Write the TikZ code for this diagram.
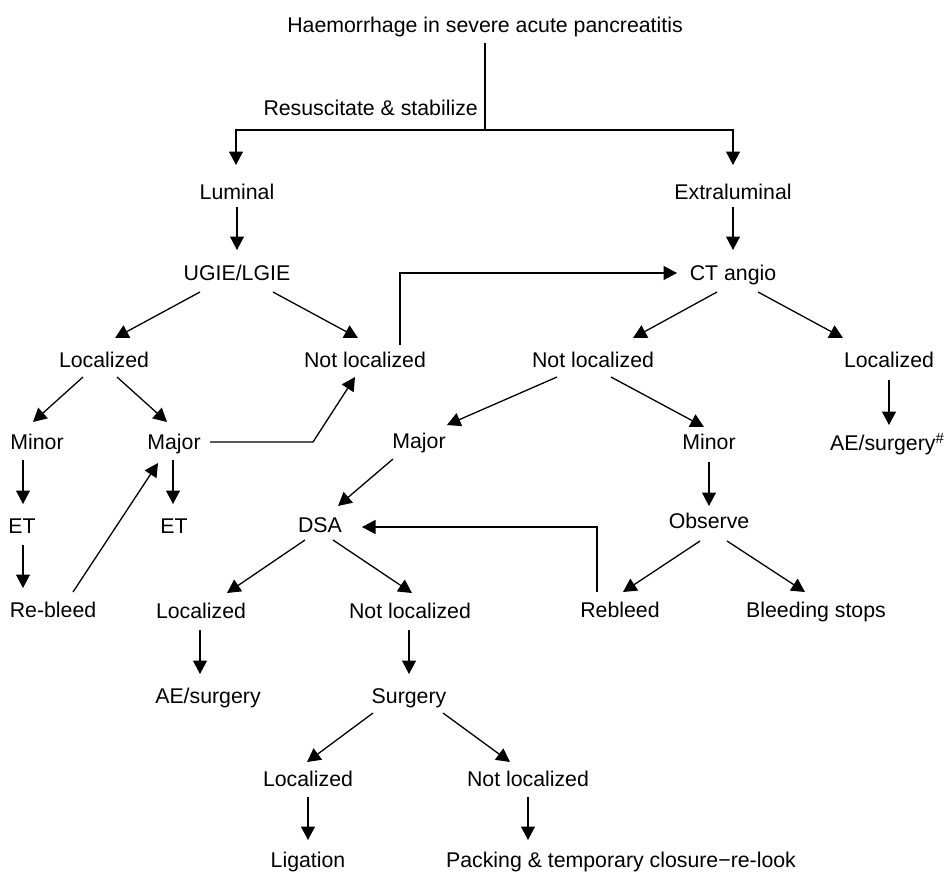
\documentclass[tikz,border=0pt]{standalone}
\usepackage{fontspec}
\setmainfont{Liberation Sans}
\usetikzlibrary{arrows.meta,calc}
\tikzset{
  lbl/.style={inner sep=0pt, text height=15.2pt, text depth=0pt, font=\fontsize{21.3}{25}\selectfont},
  conn/.style={line width=1.3pt},
  arr/.style={conn, -{Triangle[width=14pt,length=13.5pt]}}
}
\begin{document}
\begin{tikzpicture}[x=1pt,y=-1pt]
\useasboundingbox (0,0) rectangle (944,873);
% nodes
\node[lbl] (title) at (485,25) {Haemorrhage in severe acute pancreatitis};
\node[lbl,anchor=east] (resus) at (478,108) {Resuscitate \& stabilize};
\node[lbl] (lum) at (237,192) {Luminal};
\node[lbl] (ext) at (733,192) {Extraluminal};
\node[lbl] (ugie) at (237,273) {UGIE/LGIE};
\node[lbl] (ct) at (733,273) {CT angio};
\node[lbl] (locL) at (104,360) {Localized};
\node[lbl] (nlL) at (365,360) {Not localized};
\node[lbl] (nlR) at (593,360) {Not localized};
\node[lbl] (locR) at (889,360) {Localized};
\node[lbl] (minL) at (37,442) {Minor};
\node[lbl] (majL) at (174,442) {Major};
\node[lbl] (majR) at (419,441) {Major};
\node[lbl] (minR) at (709,442) {Minor};
\node[lbl,anchor=west] (aeR) at (830,443) {AE/surgery\textsuperscript{\#}};
\node[lbl] (etL) at (22,526) {ET};
\node[lbl] (etM) at (174,526) {ET};
\node[lbl] (dsa) at (320,525) {DSA};
\node[lbl] (obs) at (709,521) {Observe};
\node[lbl] (rebL) at (53,610) {Re-bleed};
\node[lbl] (locM) at (201,611) {Localized};
\node[lbl] (nlM) at (410,611) {Not localized};
\node[lbl] (rebR) at (620,610) {Rebleed};
\node[lbl] (stops) at (816,610) {Bleeding stops};
\node[lbl] (aeM) at (208,696) {AE/surgery};
\node[lbl] (surg) at (409,696) {Surgery};
\node[lbl] (locB) at (308,779) {Localized};
\node[lbl] (nlB) at (528,779) {Not localized};
\node[lbl] (lig) at (308,860) {Ligation};
\node[lbl] (pack) at (621,860) {Packing \& temporary closure−re-look};
\coordinate (split) at (485,130);
% connectors
\draw[conn] ($(title)+(0,18)$) -- (split);
\draw[arr] (split) -| ($(lum)+(-1,-27)$);
\draw[arr] (split) -| ($(ext)+(0,-27)$);
\draw[arr] ($(lum)+(0,15)$) -- ($(ugie)+(0,-23)$);
\draw[arr] ($(ext)+(0,15)$) -- ($(ct)+(0,-23)$);
\draw[arr] ($(ugie)+(-37,19)$) -- ($(locL)+(11,-22)$);
\draw[arr] ($(ugie)+(36,19)$) -- ($(nlL)+(-7,-22)$);
\draw[arr] ($(nlL)+(35,-15)$) |- ($(ct)+(-56,0)$);
\draw[arr] ($(ct)+(-16,19)$) -- ($(nlR)+(40,-22)$);
\draw[arr] ($(ct)+(25,19)$) -- ($(locR)+(-46,-22)$);
\draw[arr] ($(locR)+(0,20)$) -- ($(aeR.west)+(59,-18)$);
\draw[arr] ($(locL)+(-21,17)$) -- ($(minL)+(-4,-20)$);
\draw[arr] ($(locL)+(13,17)$) -- ($(majL)+(-7,-20)$);
\draw[arr] ($(majL)+(36,0)$) -- ($(majL)+(139,0)$) -- ($(nlL)+(-10,17)$);
\draw[arr] ($(minL)+(-14,18)$) -- ($(etL)+(1,-22)$);
\draw[arr] ($(etL)+(1,19)$) -- ($(rebL)+(-30,-22)$);
\draw[arr] ($(rebL)+(20,-18)$) -- ($(majL)+(-16,21)$);
\draw[arr] ($(majL)+(-1,18)$) -- ($(etM)+(-1,-22)$);
\draw[arr] ($(nlR)+(-36,17)$) -- ($(majR)+(28,-16)$);
\draw[arr] ($(nlR)+(18,17)$) -- ($(minR)+(-5,-15)$);
\draw[arr] ($(minR)+(0,20)$) -- ($(obs)+(0,-15)$);
\draw[arr] ($(obs)+(-9,20)$) -- ($(rebR)+(3,-18)$);
\draw[arr] ($(obs)+(18,20)$) -- ($(stops)+(-11,-18)$);
\draw[arr] ($(rebR)+(-23,-18)$) |- ($(dsa)+(42,2)$);
\draw[arr] ($(majR)+(-26,18)$) -- ($(dsa)+(18,-19)$);
\draw[arr] ($(dsa)+(-15,15)$) -- ($(locM)+(26,-18)$);
\draw[arr] ($(dsa)+(13,15)$) -- ($(nlM)+(2,-18)$);
\draw[arr] ($(locM)+(-1,19)$) -- ($(aeM)+(-8,-22)$);
\draw[arr] ($(nlM)+(-1,19)$) -- ($(surg)+(0,-22)$);
\draw[arr] ($(surg)+(-36,17)$) -- ($(locB)+(-1,-17)$);
\draw[arr] ($(surg)+(34,17)$) -- ($(nlB)+(-18,-17)$);
\draw[arr] ($(locB)+(0,18)$) -- ($(lig)+(0,-20)$);
\draw[arr] ($(nlB)+(0,18)$) -- ($(pack)+(-93,-20)$);
\end{tikzpicture}
\end{document}
